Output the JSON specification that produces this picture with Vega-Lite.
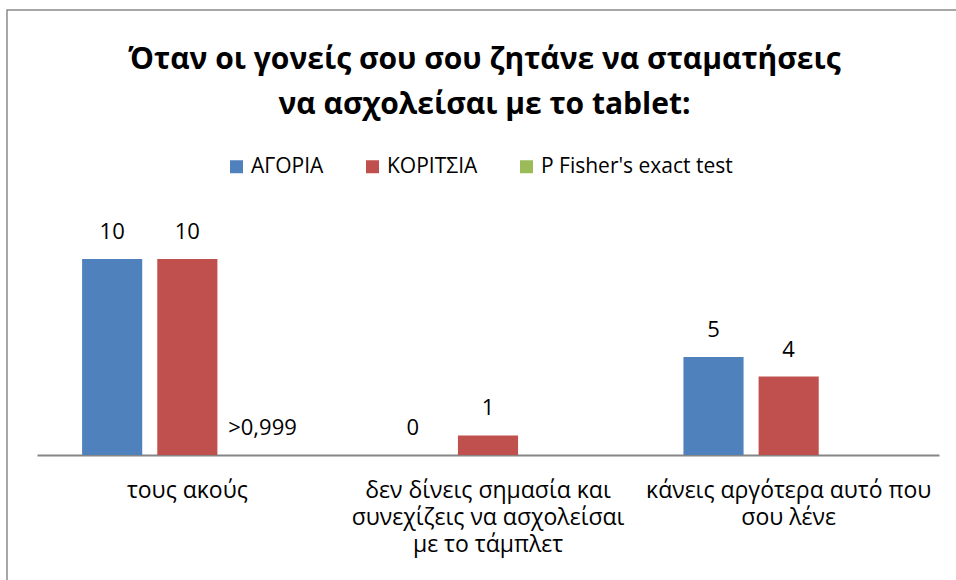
{
  "$schema": "https://vega.github.io/schema/vega-lite/v6.json",
  "width": 955,
  "height": 575,
  "autosize": {"type": "none"},
  "padding": {"left": 7, "top": 10, "right": -6, "bottom": -5},
  "background": "white",
  "config": {
    "view": {"stroke": "#8a8a8a", "strokeWidth": 1.5},
    "font": "Open Sans"
  },
  "title": {
    "text": ["Όταν οι γονείς σου σου ζητάνε να σταματήσεις", "να ασχολείσαι με το tablet:"],
    "font": "Open Sans",
    "fontSize": 30,
    "fontWeight": "bold",
    "color": "black",
    "anchor": "middle",
    "frame": "group",
    "lineHeight": 45,
    "offset": -110
  },
  "data": {
    "values": [
      {"category": "τους ακούς", "series": "ΑΓΟΡΙΑ", "value": 10, "label": "10"},
      {"category": "τους ακούς", "series": "ΚΟΡΙΤΣΙΑ", "value": 10, "label": "10"},
      {"category": "τους ακούς", "series": "P Fisher's exact test", "value": 0, "label": ">0,999"},
      {"category": "δεν δίνεις σημασία και|συνεχίζεις να ασχολείσαι|με το τάμπλετ", "series": "ΑΓΟΡΙΑ", "value": 0, "label": "0"},
      {"category": "δεν δίνεις σημασία και|συνεχίζεις να ασχολείσαι|με το τάμπλετ", "series": "ΚΟΡΙΤΣΙΑ", "value": 1, "label": "1"},
      {"category": "κάνεις αργότερα αυτό που|σου λένε", "series": "ΑΓΟΡΙΑ", "value": 5, "label": "5"},
      {"category": "κάνεις αργότερα αυτό που|σου λένε", "series": "ΚΟΡΙΤΣΙΑ", "value": 4, "label": "4"}
    ]
  },
  "encoding": {
    "x": {
      "field": "category",
      "type": "nominal",
      "sort": null,
      "scale": {"range": [30, 932], "paddingInner": 0, "paddingOuter": 0},
      "axis": {
        "title": null,
        "offset": -130,
        "ticks": false,
        "domainColor": "#868686",
        "domainWidth": 2,
        "labelAngle": 0,
        "labelFont": "Open Sans",
        "labelFontSize": 23,
        "labelColor": "black",
        "labelPadding": 24,
        "labelBaseline": "top",
        "labelLineHeight": 27,
        "labelLimit": 0,
        "labelExpr": "split(datum.label, '|')"
      }
    },
    "xOffset": {
      "field": "series",
      "type": "nominal",
      "sort": ["ΑΓΟΡΙΑ", "ΚΟΡΙΤΣΙΑ", "P Fisher's exact test"],
      "scale": {"paddingInner": 0.2, "paddingOuter": 0.6}
    },
    "y": {
      "field": "value",
      "type": "quantitative",
      "scale": {"domain": [0, 10], "range": [445, 249], "nice": false, "zero": true},
      "axis": null
    }
  },
  "layer": [
    {
      "mark": {"type": "bar"},
      "encoding": {
        "color": {
          "field": "series",
          "type": "nominal",
          "scale": {
            "domain": ["ΑΓΟΡΙΑ", "ΚΟΡΙΤΣΙΑ", "P Fisher's exact test"],
            "range": ["#4F81BD", "#C0504D", "#9BBB59"]
          },
          "legend": {
            "title": null,
            "orient": "none",
            "direction": "horizontal",
            "legendX": 219,
            "legendY": 146,
            "symbolType": "square",
            "symbolSize": 169,
            "symbolStrokeWidth": 0,
            "labelFont": "Open Sans",
            "labelFontSize": 21,
            "labelColor": "black",
            "labelOffset": 4,
            "labelLimit": 0,
            "columnPadding": 38
          }
        }
      }
    },
    {
      "mark": {"type": "text", "baseline": "alphabetic", "dy": -20, "fontSize": 22, "font": "Open Sans", "color": "black"},
      "encoding": {
        "text": {"field": "label"}
      }
    }
  ]
}
